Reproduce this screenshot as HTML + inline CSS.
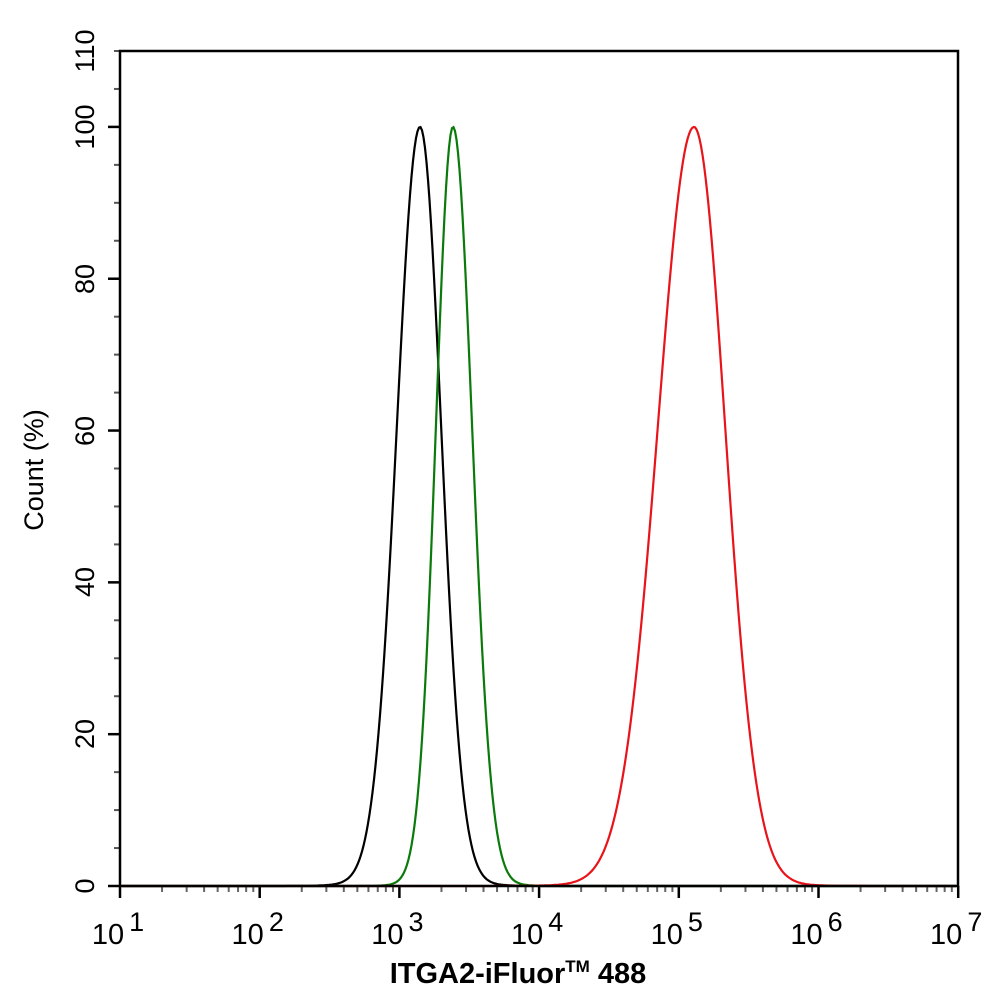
<!DOCTYPE html>
<html><head><meta charset="utf-8"><style>
body{margin:0;background:#fff}
svg{display:block}
text{font-family:"Liberation Sans",sans-serif;fill:#000}
</style></head><body>
<svg id="s" width="994" height="1002" viewBox="0 0 994 1002" xmlns="http://www.w3.org/2000/svg">
<rect x="0" y="0" width="994" height="1002" fill="#fff"/>
<g id="ticks"></g>
<path id="k" fill="none" stroke="#000" stroke-width="2.2"/>
<path id="g" fill="none" stroke="#0a7a0a" stroke-width="2.2"/>
<path id="r" fill="none" stroke="#e8141a" stroke-width="2.2"/>
<rect x="120" y="51" width="838" height="835" fill="none" stroke="#000" stroke-width="2.5"/>
<g font-size="27">
<text transform="translate(94,886) rotate(-90)" text-anchor="middle">0</text>
<text transform="translate(94,734) rotate(-90)" text-anchor="middle">20</text>
<text transform="translate(94,582) rotate(-90)" text-anchor="middle">40</text>
<text transform="translate(94,431) rotate(-90)" text-anchor="middle">60</text>
<text transform="translate(94,279) rotate(-90)" text-anchor="middle">80</text>
<text transform="translate(94,127) rotate(-90)" text-anchor="middle">100</text>
<text transform="translate(94,51) rotate(-90)" text-anchor="middle">110</text>
</g>
<text transform="translate(43,470) rotate(-90)" text-anchor="middle" font-size="27">Count  (%)</text>
<g font-size="29" id="xl"></g>
<text x="518" y="983" text-anchor="middle" font-size="29" font-weight="bold">ITGA2-iFluor<tspan font-size="17" dy="-11">TM</tspan><tspan dy="11"> 488</tspan></text>
</svg>
<script>
const X0=120,D=139.7,Y0=886,YS=835/110;
const ns="http://www.w3.org/2000/svg";
const tg=document.getElementById('ticks');
function line(x1,y1,x2,y2,c,w){const l=document.createElementNS(ns,'line');l.setAttribute('x1',x1);l.setAttribute('y1',y1);l.setAttribute('x2',x2);l.setAttribute('y2',y2);l.setAttribute('stroke',c);l.setAttribute('stroke-width',w);tg.appendChild(l);}
for(let v=0;v<=110;v+=5){const y=Y0-v*YS;if(v%20==0)line(108,y,120,y,'#000',2.5);else line(114,y,120,y,'#555',2);}
for(let d=0;d<6;d++){for(let m=2;m<10;m++){const x=X0+(d+Math.log10(m))*D;line(x,886,x,892,'#666',2);}}
const xl=document.getElementById('xl');
for(let d=0;d<=6;d++){const x=X0+d*D;line(x,886,x,898,'#000',2.5);
const t=document.createElementNS(ns,'text');t.setAttribute('x',x-2);t.setAttribute('y',944);t.setAttribute('text-anchor','middle');t.innerHTML='10<tspan dx="5" dy="-13" font-size="27">'+(d+1)+'</tspan>';xl.appendChild(t);}
function curve(id,pk,sl,sr,tail){let p='';for(let x=X0+2;x<=957;x+=1.5){const s=x<pk?sl:sr;let v=(100-tail)*Math.exp(-0.5*((x-pk)/s)**2)+tail*Math.exp(-0.5*((x-pk)/(s*1.8))**2);const y=Y0-v*YS;p+=(p?'L':'M')+x.toFixed(1)+','+y.toFixed(1);}document.getElementById(id).setAttribute('d',p);}
curve('k',420,23,21,1.2);
curve('g',453,17,19,0.8);
curve('r',694,36,31,0.8);
</script>
</body></html>
